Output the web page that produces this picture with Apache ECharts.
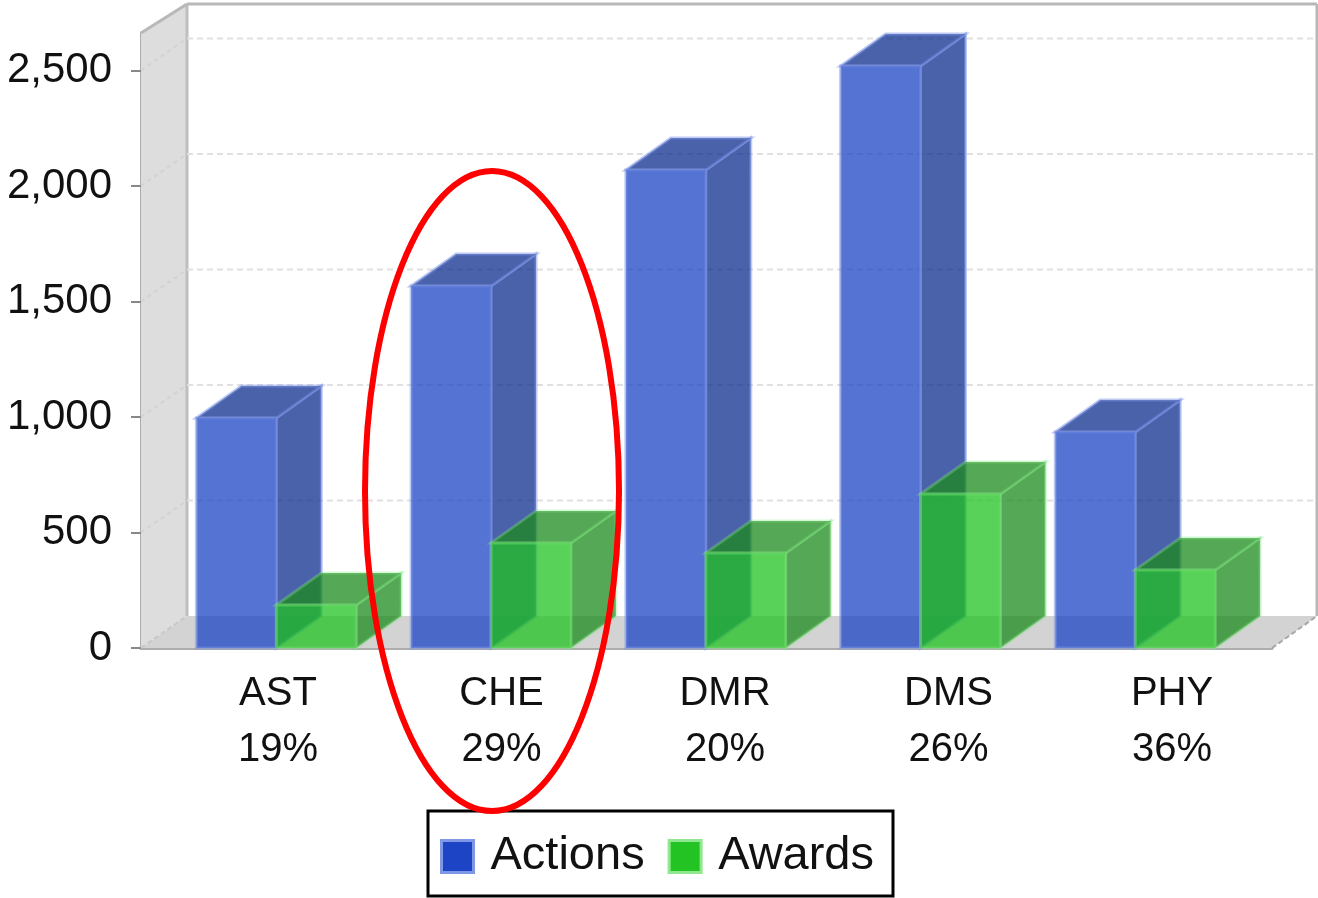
<!DOCTYPE html>
<html>
<head>
<meta charset="utf-8">
<style>html,body{margin:0;padding:0;background:#fff}#c{width:1318px;height:898px}</style>
<script src="https://cdn.jsdelivr.net/npm/echarts@6/dist/echarts.min.js"></script>
</head>
<body>
<div id="c"></div>
<script>
const categories = ['AST','CHE','DMR','DMS','PHY'];
const shares = ['19%','29%','20%','26%','36%'];
const actions = [996,1567,2069,2519,935];
const awards = [186,455,411,667,338];
const yTicks = [0,500,1000,1500,2000,2500];

const DX = 45, DY = -32;
const FONT = '"Liberation Sans", Arial, sans-serif';
const BAR_W = 0.372;

function poly(points, fill, stroke, lw){
  return {type:'polygon', shape:{points}, style:{fill, stroke: stroke||'none', lineWidth: lw||0}};
}
function line(x1,y1,x2,y2,stroke,lw,dash){
  return {type:'line', shape:{x1,y1,x2,y2}, style:{stroke, lineWidth:lw, lineDash:dash||null, fill:'none'}};
}

function renderWalls(params, api){
  const g = params.coordSys;
  const x0 = g.x, x1 = g.x+g.width, yb = g.y+g.height, yt = g.y;
  const xl = x0+DX+1, yTop = yt-29;
  const kids = [
    poly([[xl,yb+DY],[x1+DX,yb+DY],[x1,yb],[x0,yb]], '#D3D3D3'),
    poly([[x0,yt],[xl,yTop],[xl,yb+DY],[x0,yb]], '#DDDDDD'),
    line(xl,yTop,x1+DX,yTop,'#B8B8B8',3),
    line(x1+DX,yTop,x1+DX,yb+DY,'#B8B8B8',3),
    line(xl,yTop,xl,yb+DY,'#BEBEBE',3),
    line(x0,yt,xl,yTop,'#B8B8B8',3),
    line(x1,yb,x1+DX,yb+DY,'#A8A8A8',2,[5,3]),
    line(x0,yb,xl,yb+DY,'#C8C8C8',2,[5,3])
  ];
  yTicks.forEach(v=>{
    if(!v) return;
    const y = api.coord([0,v])[1];
    kids.push(line(xl,y+DY,x1+DX,y+DY,'#E0E0E0',2,[6,4]));
    kids.push(line(x0,y,xl,y+DY,'#D2D2D2',2,[4,4]));
  });
  return {type:'group', children:kids};
}

function barRenderer(off, front, side, edge){
  return function(params, api){
    const i = api.value(0), v = api.value(1);
    const bl = api.coord([i+off,0]), tr = api.coord([i+off+BAR_W,v]);
    const [xa,yb] = bl, [xb,yt] = tr;
    return {type:'group', children:[
      poly([[xb,yt],[xb+DX,yt+DY],[xb+DX,yb+DY],[xb,yb]], side, edge, 3),
      poly([[xa,yt],[xa+DX,yt+DY],[xb+DX,yt+DY],[xb,yt]], side, edge, 3),
      poly([[xa,yt],[xb,yt],[xb,yb],[xa,yb]], front, edge, 3)
    ]};
  };
}

const chart = echarts.init(document.getElementById('c'));
chart.setOption({
  animation:false,
  backgroundColor:'#fff',
  grid:[
    {left:141, top:33, width:1131, height:615},
    {left:166.25, top:33, width:1117.5, height:615}
  ],
  xAxis:[
    {type:'value', gridIndex:0, min:-0.63, max:4.637,
     axisLine:{show:true,onZero:false,lineStyle:{color:'#ADADAD',width:3}},
     axisTick:{show:false}, axisLabel:{show:false}, splitLine:{show:false}},
    {type:'category', gridIndex:1, data:categories.map((c,i)=>c+'\n'+shares[i]),
     axisLine:{show:false}, axisTick:{show:false},
     axisLabel:{margin:18, fontFamily:FONT, fontSize:40, lineHeight:56, color:'#111', interval:0}}
  ],
  yAxis:[
    {type:'value', gridIndex:0, min:0, max:2662,
     axisLine:{show:true,onZero:false,lineStyle:{color:'#ADADAD',width:3}},
     axisTick:{show:true,length:10,lineStyle:{color:'#888',width:2},customValues:yTicks},
     axisLabel:{margin:29,fontFamily:FONT,fontSize:42,color:'#111',customValues:yTicks,
       formatter:v=>Number(v).toLocaleString('en-US')},
     splitLine:{show:false}},
    {type:'value', gridIndex:1, show:false}
  ],
  legend:{
    left:428, top:811, orient:'horizontal', padding:[22,19,16,12], itemGap:23,
    itemWidth:32, itemHeight:32, borderColor:'#000', borderWidth:3, backgroundColor:'#fff',
    textStyle:{fontFamily:FONT,fontSize:47,color:'#111',padding:[0,0,0,12]},
    data:[
      {name:'Actions',icon:'rect',itemStyle:{color:'#1C44C4',borderColor:'#7F98E6',borderWidth:3}},
      {name:'Awards',icon:'rect',itemStyle:{color:'#22C322',borderColor:'#8FE88F',borderWidth:3}}
    ]
  },
  graphic:{elements:[
    {type:'ellipse', z:100, shape:{cx:492,cy:491,rx:127,ry:320},
     style:{fill:'transparent',stroke:'#FF0000',lineWidth:6}}
  ]},
  series:[
    {type:'custom', name:'walls', xAxisIndex:0, yAxisIndex:0, z:1, silent:true, clip:false,
     data:[[0,0]], encode:{x:0,y:1}, renderItem:renderWalls},
    {type:'custom', name:'Actions', xAxisIndex:0, yAxisIndex:0, z:2, clip:false,
     data:actions.map((v,i)=>[i,v]), encode:{x:0,y:1},
     itemStyle:{color:'#1C44C4'},
     renderItem:barRenderer(-BAR_W,'rgba(28,68,196,0.75)','rgba(13,45,141,0.75)','rgba(125,150,230,0.5)')},
    {type:'custom', name:'Awards', xAxisIndex:0, yAxisIndex:0, z:3, clip:false,
     data:awards.map((v,i)=>[i,v]), encode:{x:0,y:1},
     itemStyle:{color:'#22C322'},
     renderItem:barRenderer(0,'rgba(34,195,34,0.75)','rgba(28,139,28,0.75)','rgba(130,230,130,0.35)')}
  ]
});
</script>
</body>
</html>
